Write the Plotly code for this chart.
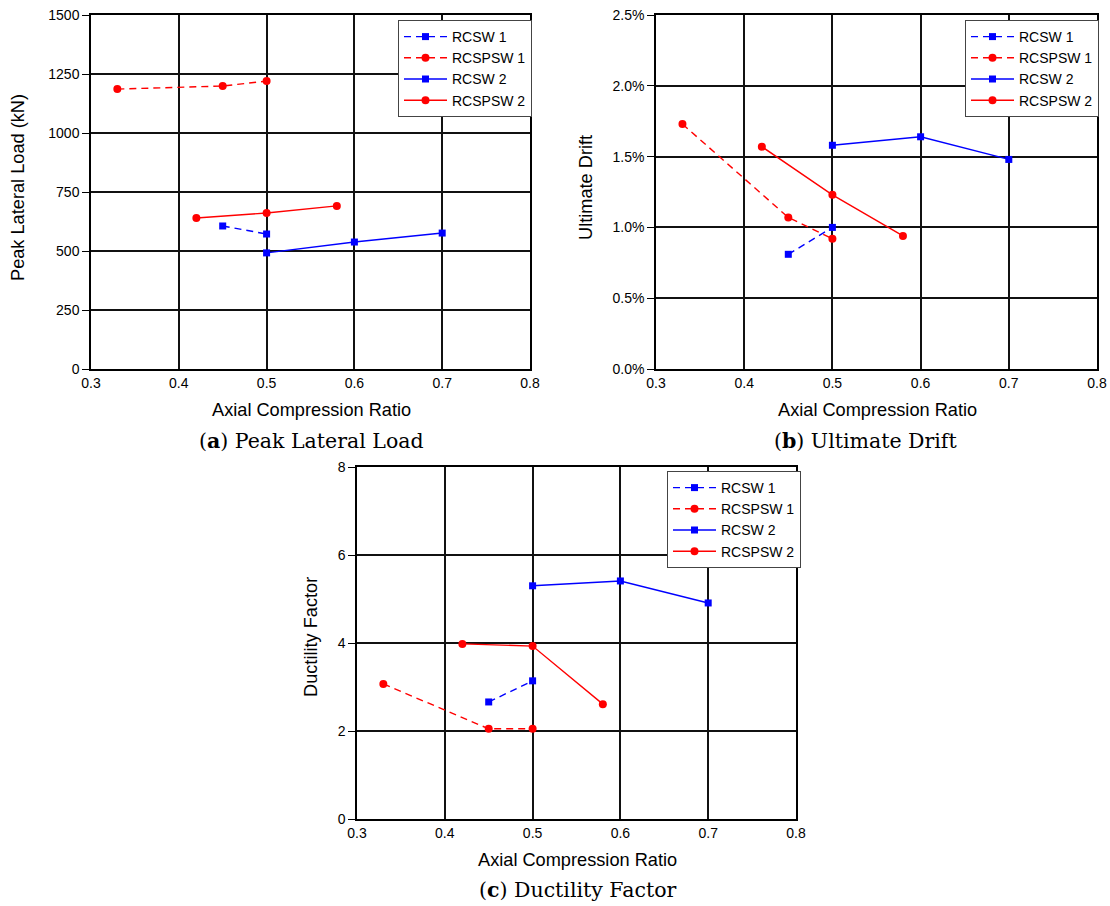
import plotly.graph_objects as go

# Axial compression ratios for each specimen series
acr_rcsw1 = [0.45, 0.5]
acr_rcspsw1 = [0.33, 0.45, 0.5]
acr_rcsw2 = [0.5, 0.6, 0.7]
acr_rcspsw2 = [0.42, 0.5, 0.58]

# (a) Peak lateral load, kN
load_rcsw1 = [606, 572]
load_rcspsw1 = [1186, 1199, 1220]
load_rcsw2 = [492, 538, 576]
load_rcspsw2 = [640, 661, 691]

# (b) Ultimate drift, fraction
drift_rcsw1 = [0.0081, 0.0100]
drift_rcspsw1 = [0.0173, 0.0107, 0.0092]
drift_rcsw2 = [0.0158, 0.0164, 0.0148]
drift_rcspsw2 = [0.0157, 0.0123, 0.0094]

# (c) Ductility factor
duct_rcsw1 = [2.66, 3.14]
duct_rcspsw1 = [3.07, 2.05, 2.05]
duct_rcsw2 = [5.30, 5.41, 4.91]
duct_rcspsw2 = [3.98, 3.93, 2.61]

series_names = ["RCSW 1", "RCSPSW 1", "RCSW 2", "RCSPSW 2"]
x_ticks = [0.3, 0.4, 0.5, 0.6, 0.7, 0.8]
x_title = "Axial Compression Ratio"
y_titles = ["Peak Lateral Load (kN)", "Ultimate Drift", "Ductility Factor"]
captions = ["(<b>a</b>) Peak Lateral Load", "(<b>b</b>) Ultimate Drift", "(<b>c</b>) Ductility Factor"]

styles = [
    dict(color="#0000ff", dash="7px,5px", symbol="square", size=7),
    dict(color="#ff0000", dash="7px,5px", symbol="circle", size=8),
    dict(color="#0000ff", dash="solid", symbol="square", size=7),
    dict(color="#ff0000", dash="solid", symbol="circle", size=8),
]

panels = [
    dict(xs=[acr_rcsw1, acr_rcspsw1, acr_rcsw2, acr_rcspsw2],
         ys=[load_rcsw1, load_rcspsw1, load_rcsw2, load_rcspsw2],
         xaxis="x", yaxis="y", legend="legend"),
    dict(xs=[acr_rcsw1, acr_rcspsw1, acr_rcsw2, acr_rcspsw2],
         ys=[drift_rcsw1, drift_rcspsw1, drift_rcsw2, drift_rcspsw2],
         xaxis="x2", yaxis="y2", legend="legend2"),
    dict(xs=[acr_rcsw1, acr_rcspsw1, acr_rcsw2, acr_rcspsw2],
         ys=[duct_rcsw1, duct_rcspsw1, duct_rcsw2, duct_rcspsw2],
         xaxis="x3", yaxis="y3", legend="legend3"),
]

W, H = 1110, 906


def px_x(p):
    return p / W


def px_y(p):
    return 1 - p / H


fig = go.Figure()
for panel in panels:
    for name, xv, yv, st in zip(series_names, panel["xs"], panel["ys"], styles):
        fig.add_trace(go.Scatter(
            x=xv, y=yv, name=name, mode="lines+markers",
            line=dict(color=st["color"], dash=st["dash"], width=1.4),
            marker=dict(color=st["color"], symbol=st["symbol"], size=st["size"]),
            xaxis=panel["xaxis"], yaxis=panel["yaxis"], legend=panel["legend"],
        ))

sans = "Arial, Liberation Sans"
tick_font = dict(family=sans, size=14, color="#000000")
title_font = dict(family=sans, size=18.2, color="#000000")

common_x = dict(range=[0.3, 0.8], tickvals=x_ticks, ticktext=[f"{v:.1f}" for v in x_ticks],
                showgrid=True, gridcolor="#111111", gridwidth=2, showline=True, linecolor="#000000",
                linewidth=1.5, mirror=True, ticks="", tickfont=tick_font, zeroline=False,
                automargin=False)
common_y = dict(showgrid=True, gridcolor="#111111", gridwidth=2, showline=True, linecolor="#000000",
                linewidth=1.5, mirror=True, ticks="outside", ticklen=7, tickcolor="#000000",
                tickfont=tick_font, zeroline=False, automargin=False)

fig.update_layout(
    width=W, height=H,
    margin=dict(l=0, r=0, t=0, b=0),
    paper_bgcolor="white", plot_bgcolor="white",
    xaxis=dict(common_x, domain=[px_x(91), px_x(530)], anchor="y"),
    yaxis=dict(common_y, domain=[px_y(369), px_y(15)], anchor="x", range=[0, 1500],
               tickvals=[0, 250, 500, 750, 1000, 1250, 1500]),
    xaxis2=dict(common_x, domain=[px_x(656), px_x(1097)], anchor="y2"),
    yaxis2=dict(common_y, domain=[px_y(369), px_y(15)], anchor="x2", range=[0, 0.025],
                tickvals=[0, 0.005, 0.01, 0.015, 0.02, 0.025], tickformat=".1%"),
    xaxis3=dict(common_x, domain=[px_x(357), px_x(796)], anchor="y3"),
    yaxis3=dict(common_y, domain=[px_y(819), px_y(467)], anchor="x3", range=[0, 8],
                tickvals=[0, 2, 4, 6, 8]),
)

legend_style = dict(bgcolor="white", bordercolor="#444444", borderwidth=1,
                    font=dict(family=sans, size=14, color="#000000"),
                    xanchor="left", yanchor="top", itemwidth=43, tracegroupgap=0)
fig.update_layout(
    legend=dict(legend_style, x=px_x(398), y=px_y(20)),
    legend2=dict(legend_style, x=px_x(965), y=px_y(20)),
    legend3=dict(legend_style, x=px_x(667), y=px_y(471)),
)

# Axis titles, placed as paper annotations
for cx, cy in zip([311, 877, 577], [410, 410, 860]):
    fig.add_annotation(text=x_title, x=px_x(cx), y=px_y(cy), xref="paper", yref="paper",
                       showarrow=False, font=title_font, xanchor="center", yanchor="middle")
for text, cx, cy in zip(y_titles, [18, 586, 311], [188, 188, 637]):
    fig.add_annotation(text=text, x=px_x(cx), y=px_y(cy), xref="paper", yref="paper",
                       showarrow=False, font=title_font, textangle=-90,
                       xanchor="center", yanchor="middle")

# Panel captions
caption_font = dict(family="DejaVu Serif, Liberation Serif", size=20.5, color="#000000")
for text, cx, cy in zip(captions, [311, 865, 577], [441, 441, 890]):
    fig.add_annotation(text=text, x=px_x(cx), y=px_y(cy), xref="paper", yref="paper",
                       showarrow=False, font=caption_font, xanchor="center", yanchor="middle")

fig.write_html("out.html")
